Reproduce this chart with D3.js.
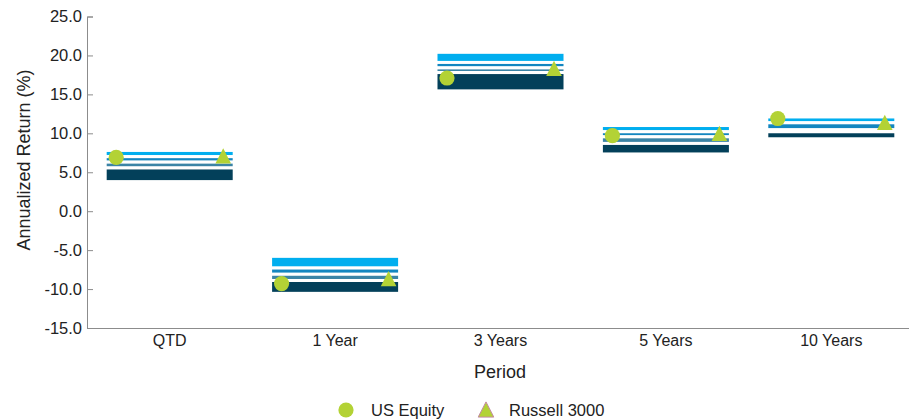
<!DOCTYPE html>
<html><head><meta charset="UTF-8">
<title>Annualized Return</title>
<script src="https://d3js.org/d3.v7.min.js"></script>
<style>
  body { margin: 0; background: #fff; }
  text { font-family: "Liberation Sans", Arial, sans-serif; fill: #222; }
</style>
</head>
<body>
<svg id="chart" width="909" height="420"></svg>
<script>
// periods along the x axis
var periods = ["QTD", "1 Year", "3 Years", "5 Years", "10 Years"];
// percentile breakpoints of the universe (top to bottom)
var p05 = [7.8, -5.8, 20.4, 11.0, 12.1];
var p25 = [7.0, -7.3, 19.1, 10.2, 11.35];
var p50 = [6.3, -8.1, 18.4, 9.55, 10.45];
var p75 = [5.55, -8.9, 17.8, 8.7, 10.2];
var p95 = [3.8, -10.55, 15.45, 7.35, 9.3];
// the two marked series
var usEquity = [6.9, -9.3, 17.1, 9.7, 11.9];
var russell3000 = [7.1, -8.65, 18.35, 10.0, 11.4];
var yTicks = [25, 20, 15, 10, 5, 0, -5, -10, -15];

var segColors = ["#00aeef", "#1386c0", "#3b84a6", "#03405a"];
var green = "#b3d235";

var svg = d3.select("#chart");
// plot edges (named so they don't clash with window.top)
var plotL = 87, plotR = 914, plotT = 16.5, plotB = 328;

var x = d3.scaleBand().domain(periods).range([plotL, plotR])
  .paddingInner(0.22).paddingOuter(0.11);
var y = d3.scaleLinear().domain([-15, 25]).range([plotB, plotT]);

// y axis, ticks pointing into the plot, plain hyphen for negatives
var yAxis = svg.append("g").attr("transform", "translate(" + plotL + ",0)")
  .call(d3.axisLeft(y).tickValues(yTicks).tickSize(-6).tickPadding(5)
    .tickFormat(function(d) { return d.toFixed(1); }));
yAxis.selectAll("path, line").attr("stroke", "#8c8c8c");
yAxis.selectAll("text").style("font-size", "16.5px").attr("fill", "#222");

// x axis (line only)
var xAxis = svg.append("g").attr("transform", "translate(0," + plotB + ")")
  .call(d3.axisBottom(x).tickSize(0).tickPadding(7));
xAxis.select("path").attr("stroke", "#8c8c8c");
xAxis.selectAll("text").style("font-size", "16px").attr("fill", "#222");

// floating percentile bars
var bounds = [p05, p25, p50, p75, p95];
periods.forEach(function(p, i) {
  for (var s = 0; s < 4; s++) {
    var hi = bounds[s][i], lo = bounds[s + 1][i];
    svg.append("rect")
      .attr("x", x(p))
      .attr("y", y(hi))
      .attr("width", x.bandwidth())
      .attr("height", y(lo) - y(hi))
      .attr("fill", segColors[s])
      .attr("stroke", "#fff")
      .attr("stroke-width", 3);
  }
});

function triPath(cx, cy) {
  return "M" + cx + "," + (cy - 7.6) + "L" + (cx + 7.8) + "," + (cy + 7.6) +
    "L" + (cx - 7.8) + "," + (cy + 7.6) + "Z";
}

// US Equity circles
svg.selectAll("circle.eq").data(usEquity).enter().append("circle")
  .attr("class", "eq")
  .attr("cx", function(d, i) { return x(periods[i]) + 11; })
  .attr("cy", function(d) { return y(d); })
  .attr("r", 7.6)
  .attr("fill", green);

// Russell 3000 triangles
svg.selectAll("path.idx").data(russell3000).enter().append("path")
  .attr("class", "idx")
  .attr("d", function(d, i) { return triPath(x(periods[i]) + x.bandwidth() - 11, y(d)); })
  .attr("fill", green);

// axis titles
svg.append("text").attr("x", 500).attr("y", 378)
  .attr("text-anchor", "middle").style("font-size", "18px").text("Period");
svg.append("text").attr("transform", "translate(30,160) rotate(-90)")
  .attr("text-anchor", "middle").style("font-size", "18px").text("Annualized Return (%)");

// legend
svg.append("circle").attr("cx", 346).attr("cy", 410).attr("r", 7.6).attr("fill", green);
svg.append("text").attr("x", 371).attr("y", 416).style("font-size", "16.5px").text("US Equity");
svg.append("path").attr("d", triPath(486, 409.5)).attr("fill", green)
  .attr("stroke", "#c58aa3").attr("stroke-width", 1);
svg.append("text").attr("x", 509).attr("y", 416).style("font-size", "16.5px").text("Russell 3000");
</script>
</body></html>
